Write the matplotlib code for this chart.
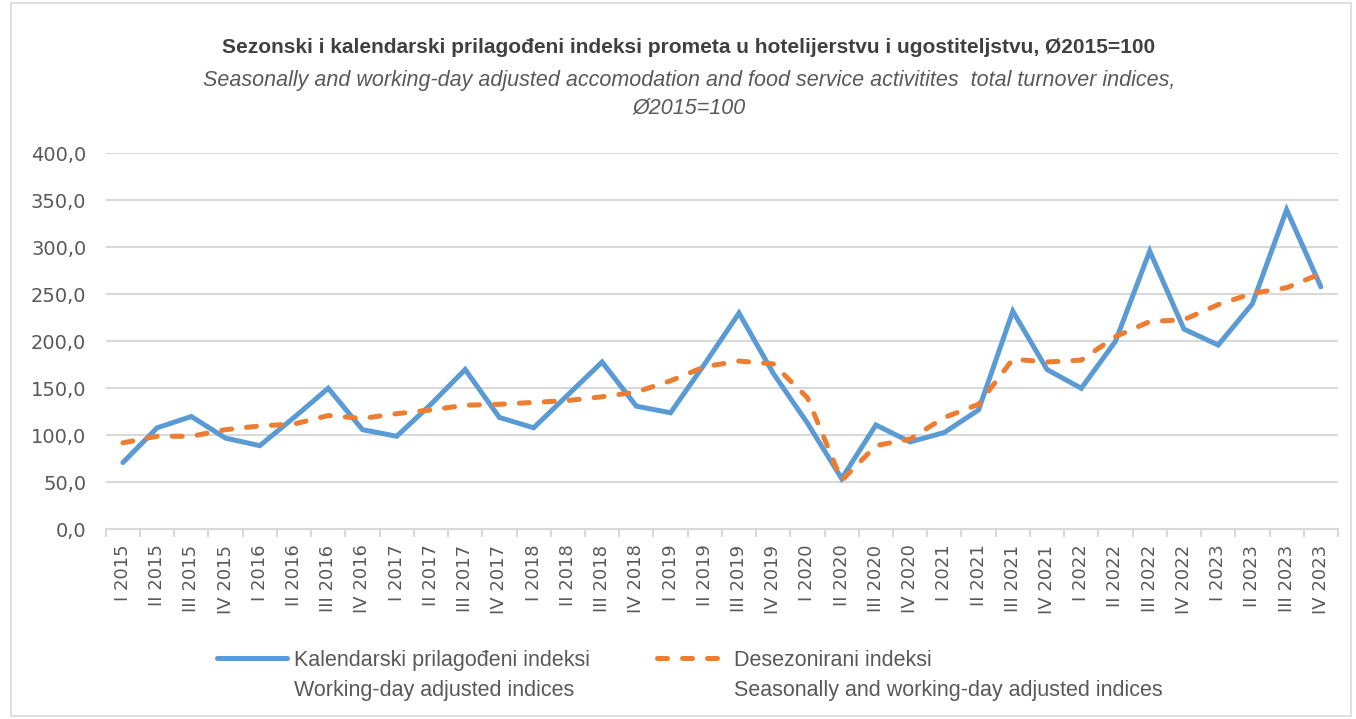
import numpy as np
import matplotlib
matplotlib.use('Agg')
import matplotlib.pyplot as plt
from matplotlib.patches import Rectangle

# quarters I 2015 .. IV 2023
quarters = ['I', 'II', 'III', 'IV']
years = list(range(2015, 2024))
categories = [f"{q} {y}" for y in years for q in quarters]

# Kalendarski prilagodjeni indeksi / Working-day adjusted indices
working_day = [71, 108, 120, 97, 89, 119, 150, 106, 99, 133, 170, 119,
               108, 143, 178, 131, 124, 176, 230, 166, 113, 54, 111, 93,
               103, 127, 232, 170, 150, 200, 296, 213, 196, 240, 340, 258]

# Desezonirani indeksi / Seasonally and working-day adjusted indices
seasonal = [92, 99, 99, 106, 110, 112, 121, 118, 123, 127, 132, 133,
            135, 137, 141, 146, 158, 173, 179, 176, 140, 52, 89, 96,
            119, 133, 181, 178, 180, 205, 221, 223, 239, 251, 257, 272]

yticks = [0, 50, 100, 150, 200, 250, 300, 350, 400]

txt_font = ['Liberation Sans', 'DejaVu Sans']
tick_font = ['DejaVu Sans']
plt.rcParams['font.family'] = txt_font

txt_col = '#595959'
grid_col = '#d9d9d9'

fig = plt.figure(figsize=(13.56, 7.19), dpi=100)
fig.patches.append(Rectangle((0.008, 0.004), 0.988, 0.992, transform=fig.transFigure,
                             fill=False, edgecolor=grid_col, lw=1.2))

ax = fig.add_axes([0.078, 0.2638, 0.9087, 0.523])
x = np.arange(len(categories))

ax.plot(x, working_day, color='#5B9BD5', lw=3.6, solid_joinstyle='miter',
        solid_capstyle='round', label='Kalendarski prilagođeni indeksi', zorder=3)
ax.plot(x, seasonal, color='#ED7D31', lw=3.6, dashes=(2.0, 3.0),
        dash_capstyle='round', label='Desezonirani indeksi', zorder=4)

ax.set_xlim(-0.5, len(categories) - 0.5)
ax.set_ylim(0, 400)
ax.set_yticks(yticks)
ax.set_yticklabels([f"{v:.1f}".replace('.', ',') for v in yticks], fontsize=14,
                   color=txt_col, family=tick_font)
ax.tick_params(axis='y', length=0, pad=14)
ax.yaxis.grid(True, color=grid_col, lw=1.5)
ax.set_axisbelow(True)

ax.set_xticks(x)
ax.set_xticklabels(categories, rotation=90, fontsize=13, color=txt_col, family=tick_font)
ax.set_xticks(np.arange(-0.5, len(categories), 1), minor=True)
ax.tick_params(axis='x', which='major', length=0, pad=11)
ax.tick_params(axis='x', which='minor', length=6, color=grid_col, width=1.5)

for s in ['left', 'right', 'top']:
    ax.spines[s].set_visible(False)
ax.spines['bottom'].set_color(grid_col)
ax.spines['bottom'].set_linewidth(1.5)

fig.text(0.508, 0.9346, 'Sezonski i kalendarski prilagođeni indeksi prometa u hotelijerstvu i ugostiteljstvu, Ø2015=100',
         ha='center', va='center', fontsize=15, fontweight='bold', color='#404040')
fig.text(0.508, 0.8887, 'Seasonally and working-day adjusted accomodation and food service activitites  total turnover indices,',
         ha='center', va='center', fontsize=15.5, style='italic', color=txt_col)
fig.text(0.508, 0.8498, 'Ø2015=100', ha='center', va='center', fontsize=15.5, style='italic', color=txt_col)

leg = fig.legend(loc='center left', bbox_to_anchor=(0.146, 0.082), ncol=2, frameon=False,
                 fontsize=15.5, handlelength=3.25, handletextpad=0.33, columnspacing=3.1)
for t in leg.get_texts():
    t.set_color(txt_col)

fig.canvas.draw()
second = ['Working-day adjusted indices', 'Seasonally and working-day adjusted indices']
inv = fig.transFigure.inverted()
for t, s in zip(leg.get_texts(), second):
    bb = t.get_window_extent()
    x0, y0 = inv.transform((bb.x0, bb.y0 - 30))
    fig.text(x0, y0, s, ha='left', va='bottom', fontsize=15.5, color=txt_col)

fig.savefig('out.png', dpi=100)
